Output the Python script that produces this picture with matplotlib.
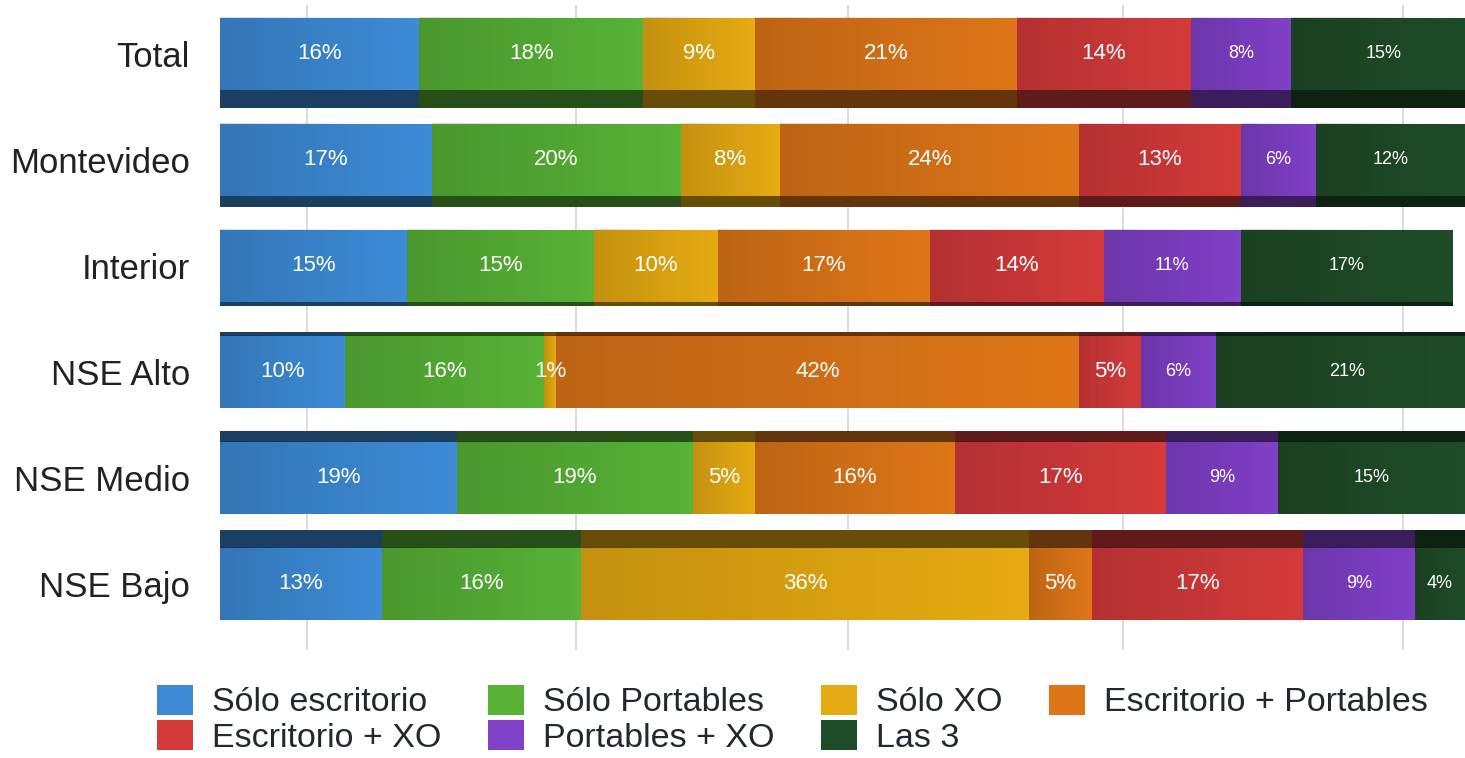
import matplotlib.pyplot as plt
import matplotlib.colors as mcolors
from matplotlib.patches import Patch
import numpy as np

plt.rcParams['font.family'] = ['Liberation Sans', 'DejaVu Sans']

# data (percent)
categories = ['Total', 'Montevideo', 'Interior', 'NSE Alto', 'NSE Medio', 'NSE Bajo']
series = ['Sólo escritorio', 'Sólo Portables', 'Sólo XO', 'Escritorio + Portables',
          'Escritorio + XO', 'Portables + XO', 'Las 3']
solo_escritorio = [16, 17, 15, 10, 19, 13]
solo_portables = [18, 20, 15, 16, 19, 16]
solo_xo = [9, 8, 10, 1, 5, 36]
escritorio_portables = [21, 24, 17, 42, 16, 5]
escritorio_xo = [14, 13, 14, 5, 17, 17]
portables_xo = [8, 6, 11, 6, 9, 9]
las_3 = [15, 12, 17, 21, 15, 4]

values = [solo_escritorio, solo_portables, solo_xo, escritorio_portables,
          escritorio_xo, portables_xo, las_3]
colors = ['#3d8bd6', '#57b236', '#e6ab12', '#de7618', '#d43a3a', '#8040c8', '#1f4c28']
small_label = [False, False, False, False, False, True, True]

# light vertical guide lines (in bar units)
grid_x = [7, 28.6, 50.4, 72.5, 95]

fig = plt.figure(figsize=(14.65, 7.58), dpi=100)
ax = fig.add_axes([0.1502, 0.1425, 0.8498, 0.851])

y = np.arange(len(categories))
face_h = 0.68

for gx in grid_x:
    ax.axvline(gx, color='#d5d5d5', lw=1.2, zorder=0)

# horizontal shading used on every segment (darker on the left)
shade = np.zeros((1, 64, 4))
shade[0, :, 3] = np.linspace(0.15, 0.0, 64)

left = np.zeros(len(categories))
for vals, col, small in zip(values, colors, small_label):
    vals = np.array(vals, dtype=float)
    dark = np.array(mcolors.to_rgb(col)) * 0.45
    for i in range(len(categories)):
        # 3D edge: underside for upper rows, top for lower rows
        t = abs(2.5 - i) / 2.5 * 0.17
        if i < 2.5:
            ax.barh(y[i] + face_h / 2 + t / 2, vals[i], left=left[i], height=t,
                    color=dark, edgecolor='none', zorder=2)
        else:
            ax.barh(y[i] - face_h / 2 - t / 2, vals[i], left=left[i], height=t,
                    color=dark, edgecolor='none', zorder=2)
    ax.barh(y, vals, left=left, height=face_h, color=col, edgecolor='none', zorder=3)
    for i in range(len(categories)):
        ax.imshow(shade, extent=[left[i], left[i] + vals[i],
                                 y[i] + face_h / 2, y[i] - face_h / 2],
                  aspect='auto', interpolation='bilinear', zorder=3.5)
        ax.text(left[i] + vals[i] / 2, y[i], f'{int(vals[i])}%',
                ha='center', va='center', color='white',
                fontsize=13 if small else 16, zorder=4)
    left += vals

ax.set_xlim(0, 100)
ax.set_ylim(5.623, -0.462)
ax.set_yticks(y)
ax.set_yticklabels(categories, fontsize=25, color='#222222')
ax.tick_params(axis='y', length=0, pad=21.6)
ax.set_xticks([])
for s in ax.spines.values():
    s.set_visible(False)

# legend filled column by column
order = [0, 4, 1, 5, 2, 6, 3]
handles = [Patch(facecolor=colors[k], edgecolor='none') for k in order]
labels = [series[k] for k in order]
fig.legend(handles, labels, ncol=4, loc='center', bbox_to_anchor=(0.541, 0.051),
           frameon=False, fontsize=24.5, handlelength=1.06, handleheight=0.97,
           handletextpad=0.56, columnspacing=1.36, labelspacing=0.05,
           labelcolor='#222831', borderpad=0)

fig.savefig('out.png', dpi=100)
